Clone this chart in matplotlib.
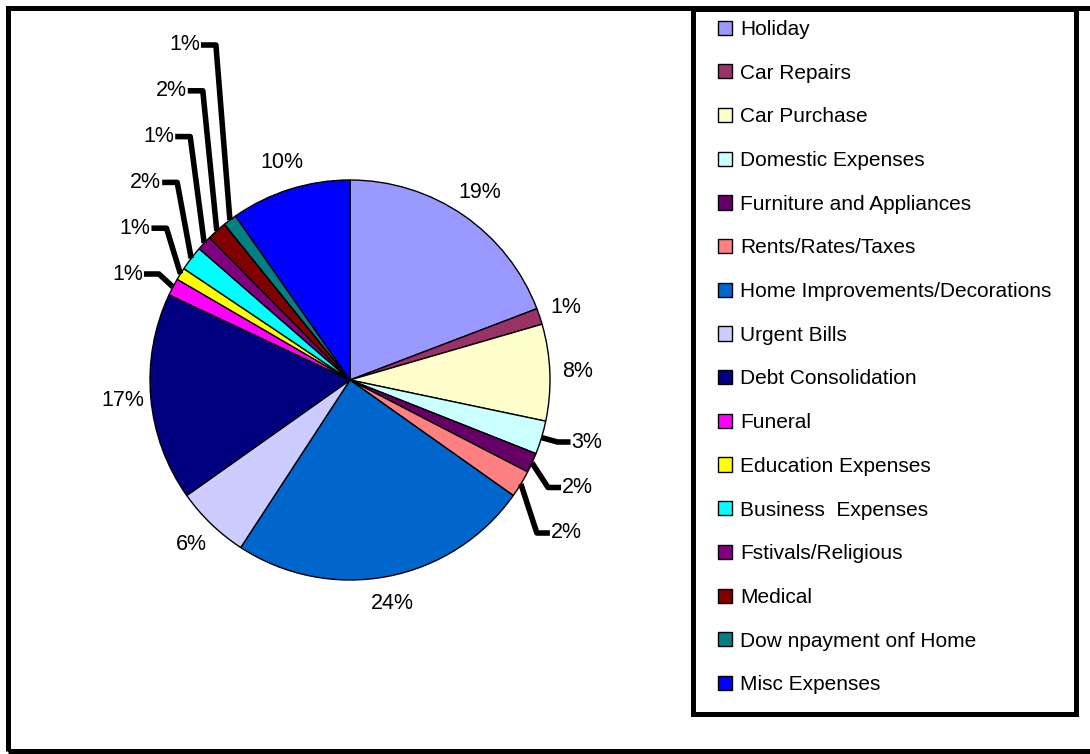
import numpy as np
import matplotlib
matplotlib.use("Agg")
import matplotlib.pyplot as plt
from matplotlib.patches import Rectangle

plt.rcParams['font.family'] = ['Liberation Sans', 'DejaVu Sans']

# data (shares in %)
categories = ["Holiday", "Car Repairs", "Car Purchase", "Domestic Expenses",
              "Furniture and Appliances", "Rents/Rates/Taxes",
              "Home Improvements/Decorations", "Urgent Bills", "Debt Consolidation",
              "Funeral", "Education Expenses", "Business  Expenses",
              "Fstivals/Religious", "Medical", "Dow npayment onf Home", "Misc Expenses"]
shares = [19.2, 1.3, 7.8, 2.7, 1.6, 2.2, 24.4, 6.0, 16.8, 1.4, 1.0, 2.0, 1.2, 1.6, 1.1, 9.7]
colors = ["#9999FF", "#993366", "#FFFFCC", "#CCFFFF", "#660066", "#FF8080",
          "#0066CC", "#CCCCFF", "#000080", "#FF00FF", "#FFFF00", "#00FFFF",
          "#800080", "#800000", "#008080", "#0000FF"]

# slices whose labels sit on leader lines
right_leaders = [3, 4, 5]
left_leaders = [9, 10, 11, 12, 13, 14]

W, H = 1090, 754
CX, CY, R = 350, 380, 200  # pie centre / radius in image pixels


def Y(y):  # image y (top down) -> axes y (bottom up)
    return H - y


fig = plt.figure(figsize=(W / 100, H / 100), dpi=100)
ax = fig.add_axes([0, 0, 1, 1])

wedges, texts, pcts = ax.pie(shares, colors=colors, startangle=90, counterclock=False,
                             center=(CX, Y(CY)), radius=R, autopct='%.0f%%', pctdistance=1.14,
                             wedgeprops=dict(edgecolor='black', linewidth=1.0),
                             textprops=dict(fontsize=15.5, color='black'))
ax.set_xlim(0, W)
ax.set_ylim(0, H)
ax.set_aspect('equal')
ax.axis('off')


def edge_point(w):
    t = np.deg2rad((w.theta1 + w.theta2) / 2)
    return CX + R * np.cos(t), Y(CY) + R * np.sin(t)


# right side leader lines
for k, i in enumerate(right_leaders):
    x0, y0 = edge_point(wedges[i])
    ey = Y(442 + 45.5 * k)
    ex = x0 + 16
    ax.plot([x0, ex, ex + 13], [y0, ey, ey], color='black', lw=4, solid_capstyle='butt')
    pcts[i].set_position((ex + 14, ey))
    pcts[i].set_ha('left')

# left side leader lines (stacked upward)
for k, i in enumerate(left_leaders):
    x0, y0 = edge_point(wedges[i])
    ey = Y(274 - 45.8 * k)
    ex = x0 - 14
    ax.plot([x0, ex, ex - 15], [y0, ey, ey], color='black', lw=4, solid_capstyle='butt')
    pcts[i].set_position((ex - 16, ey))
    pcts[i].set_ha('right')

# legend
leg = ax.legend(wedges, categories, loc='upper left', bbox_to_anchor=(718, Y(20)),
                bbox_transform=ax.transData, frameon=False, fontsize=15,
                handlelength=0.67, handleheight=0.67, handletextpad=0.38,
                labelspacing=1.185, borderpad=0, borderaxespad=0)

# frames
ax.add_patch(Rectangle((8, Y(751)), 1100, 743, fill=False, lw=3.6, edgecolor='black'))
ax.add_patch(Rectangle((692.5, Y(713.5)), 383.5, 705, fill=False, lw=3.6, edgecolor='black', zorder=5))

fig.savefig('out.png', dpi=100)
